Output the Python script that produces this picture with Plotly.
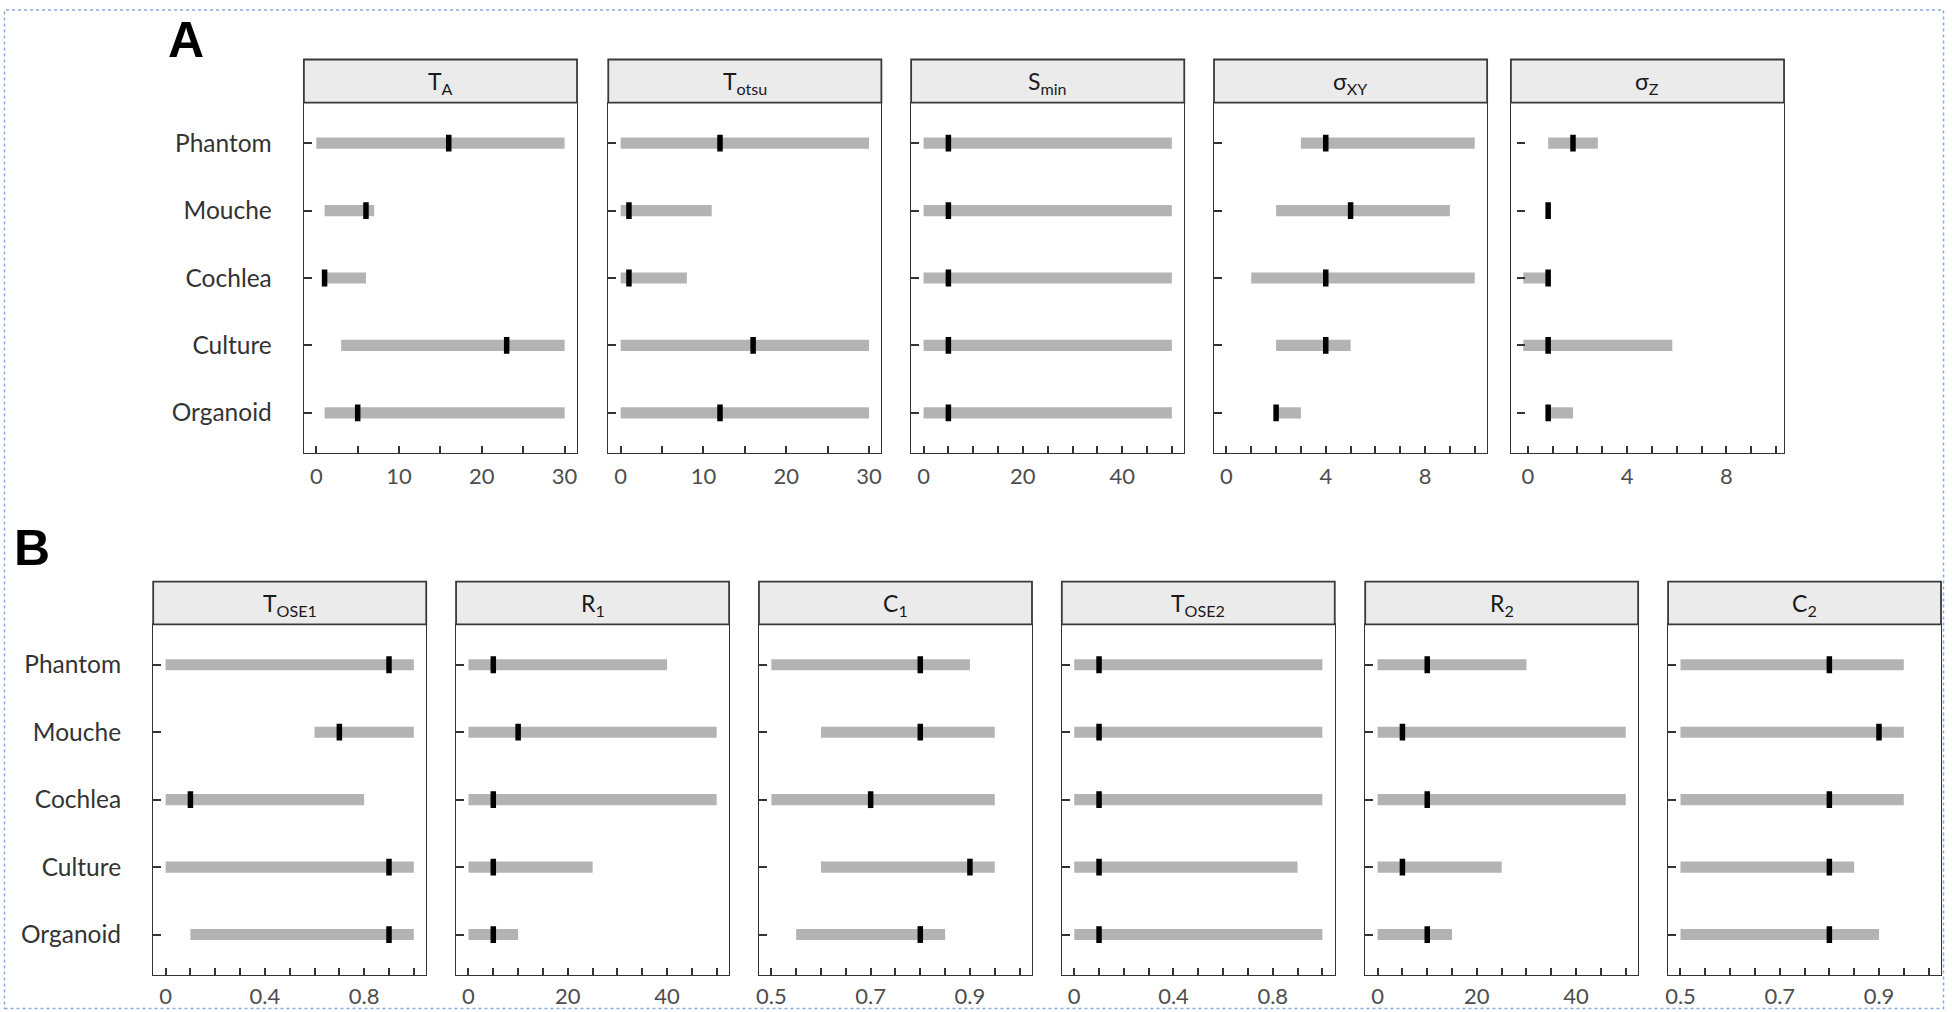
import plotly.graph_objects as go

W, H = 1952, 1012

categories = ["Phantom", "Mouche", "Cochlea", "Culture", "Organoid"]

# ---- Row A ----
TA_low = [0, 1, 1, 3, 1]
TA_high = [30, 7, 6, 30, 30]
TA_best = [16, 6, 1, 23, 5]

Totsu_low = [0, 0, 0, 0, 0]
Totsu_high = [30, 11, 8, 30, 30]
Totsu_best = [12, 1, 1, 16, 12]

Smin_low = [0, 0, 0, 0, 0]
Smin_high = [50, 50, 50, 50, 50]
Smin_best = [5, 5, 5, 5, 5]

sXY_low = [3, 2, 1, 2, 2]
sXY_high = [10, 9, 10, 5, 3]
sXY_best = [4, 5, 4, 4, 2]

sZ_low = [1, 1, 0, 0, 1]
sZ_high = [3, 1, 1, 6, 2]
sZ_best = [2, 1, 1, 1, 1]

# ---- Row B ----
TOSE1_low = [0, 0.6, 0, 0, 0.1]
TOSE1_high = [1, 1, 0.8, 1, 1]
TOSE1_best = [0.9, 0.7, 0.1, 0.9, 0.9]

R1_low = [0, 0, 0, 0, 0]
R1_high = [40, 50, 50, 25, 10]
R1_best = [5, 10, 5, 5, 5]

C1_low = [0.5, 0.6, 0.5, 0.6, 0.55]
C1_high = [0.9, 0.95, 0.95, 0.95, 0.85]
C1_best = [0.8, 0.8, 0.7, 0.9, 0.8]

TOSE2_low = [0, 0, 0, 0, 0]
TOSE2_high = [1, 1, 1, 0.9, 1]
TOSE2_best = [0.1, 0.1, 0.1, 0.1, 0.1]

R2_low = [0, 0, 0, 0, 0]
R2_high = [30, 50, 50, 25, 15]
R2_best = [10, 5, 10, 5, 10]

C2_low = [0.5, 0.5, 0.5, 0.5, 0.5]
C2_high = [0.95, 0.95, 0.95, 0.85, 0.9]
C2_best = [0.8, 0.9, 0.8, 0.8, 0.8]

# ---- tick definitions (labelled ticks, labels, all tick marks) ----
ticks_30 = [0, 10, 20, 30]
labels_30 = ["0", "10", "20", "30"]
minor_30 = [0, 5, 10, 15, 20, 25, 30]

ticks_50 = [0, 20, 40]
labels_50 = ["0", "20", "40"]
minor_50 = [0, 5, 10, 15, 20, 25, 30, 35, 40, 45, 50]

ticks_10 = [0, 4, 8]
labels_10 = ["0", "4", "8"]
minor_10 = [0, 1, 2, 3, 4, 5, 6, 7, 8, 9, 10]

ticks_1 = [0, 0.4, 0.8]
labels_1 = ["0", "0.4", "0.8"]
minor_1 = [0, 0.1, 0.2, 0.3, 0.4, 0.5, 0.6, 0.7, 0.8, 0.9, 1.0]

ticks_c = [0.5, 0.7, 0.9]
labels_c = ["0.5", "0.7", "0.9"]
minor_c = [0.5, 0.55, 0.6, 0.65, 0.7, 0.75, 0.8, 0.85, 0.9, 0.95, 1.0]

panels = [
    # title, low, high, best, range, tickvals, ticktext, minor, x0px, x1px, row
    ("T<sub>A</sub>", TA_low, TA_high, TA_best, [-1.5, 31.5], ticks_30, labels_30, minor_30, 301.5, 575.2, 0),
    ("T<sub>otsu</sub>", Totsu_low, Totsu_high, Totsu_best, [-1.5, 31.5], ticks_30, labels_30, minor_30, 606.5, 880.2, 0),
    ("S<sub>min</sub>", Smin_low, Smin_high, Smin_best, [-2.5, 52.5], ticks_50, labels_50, minor_50, 910, 1183.7, 0),
    ("σ<sub>XY</sub>", sXY_low, sXY_high, sXY_best, [-0.5, 10.5], ticks_10, labels_10, minor_10, 1213.5, 1487.2, 0),
    ("σ<sub>Z</sub>", sZ_low, sZ_high, sZ_best, [-0.5, 10.5], ticks_10, labels_10, minor_10, 1511, 1784.7, 0),
    ("T<sub>OSE1</sub>", TOSE1_low, TOSE1_high, TOSE1_best, [-0.05, 1.05], ticks_1, labels_1, minor_1, 150.5, 424.1, 1),
    ("R<sub>1</sub>", R1_low, R1_high, R1_best, [-2.5, 52.5], ticks_50, labels_50, minor_50, 454, 727.6, 1),
    ("C<sub>1</sub>", C1_low, C1_high, C1_best, [0.475, 1.025], ticks_c, labels_c, minor_c, 757.5, 1031.1, 1),
    ("T<sub>OSE2</sub>", TOSE2_low, TOSE2_high, TOSE2_best, [-0.05, 1.05], ticks_1, labels_1, minor_1, 1061, 1334.5, 1),
    ("R<sub>2</sub>", R2_low, R2_high, R2_best, [-2.5, 52.5], ticks_50, labels_50, minor_50, 1365, 1638.5, 1),
    ("C<sub>2</sub>", C2_low, C2_high, C2_best, [0.475, 1.025], ticks_c, labels_c, minor_c, 1668.5, 1942, 1),
]

# rows: strip top, strip bottom (= panel top), panel bottom  (px)
rows = [(59.5, 102.7, 453.3), (581.7, 624.3, 975.0)]
xlab_standoff = [3, 1]


def fx(px):
    return px / W


def fy(py):
    return 1 - py / H


fig = go.Figure()
layout = dict(
    width=W, height=H, margin=dict(l=0, r=0, t=0, b=0),
    paper_bgcolor="white", plot_bgcolor="white", showlegend=False,
    font=dict(family="Lato", color="#333333"),
)
shapes = []
annotations = []

AX = "#333333"
TICKFONT = dict(family="Lato", size=22, color="#4D4D4D")
CATFONT = dict(family="Lato", size=24.5, color="#333333")


def xtick_style(tv, tt, minor, show):
    d = dict(
        tickmode="array", tickvals=tv, ticktext=tt,
        ticks="inside" if show else "", ticklen=7, tickwidth=1.8, tickcolor=AX,
        showticklabels=show, tickfont=TICKFONT,
    )
    if show:
        d["minor"] = dict(tickmode="array", tickvals=minor, ticks="inside",
                          ticklen=7, tickwidth=1.8, tickcolor=AX, showgrid=False)
    return d


for i, (title, lo, hi, best, rng, tv, tt, minor, x0, x1, row) in enumerate(panels):
    n = i + 1
    xs = "x" if n == 1 else f"x{n}"
    ys = "y" if n == 1 else f"y{n}"
    st, sb, pb = rows[row]
    special = (title == "σ<sub>Z</sub>")
    first_in_row = (n == 1 or n == 6)

    fig.add_trace(go.Bar(
        y=categories, x=[h - l for l, h in zip(lo, hi)], base=lo,
        orientation="h", width=0.165,
        marker=dict(color="#B3B3B3", line=dict(width=0)),
        xaxis=xs, yaxis=ys, hoverinfo="skip",
    ))
    fig.add_trace(go.Scatter(
        x=best, y=categories, mode="markers",
        marker=dict(symbol="line-ns", size=12, color="black",
                    line=dict(width=5.5, color="black")),
        xaxis=xs, yaxis=ys, hoverinfo="skip",
    ))

    xa = dict(
        domain=[fx(x0), fx(x1)], anchor=ys, range=rng,
        ticklabelstandoff=xlab_standoff[row],
        showline=True, linecolor=AX, linewidth=1.4, mirror=True,
        showgrid=False, zeroline=False, fixedrange=True,
        **xtick_style(tv, tt, minor, not special),
    )
    ya = dict(
        domain=[fy(pb), fy(sb)], anchor=xs, type="category",
        categoryorder="array", categoryarray=categories, range=[4.6, -0.6],
        ticks="" if special else "inside", ticklen=8, tickwidth=2, tickcolor=AX,
        showticklabels=first_in_row, tickfont=CATFONT, ticklabelstandoff=26,
        showline=True, linecolor=AX, linewidth=1.4, mirror=True,
        showgrid=False, zeroline=False, fixedrange=True,
    )
    layout["xaxis" if n == 1 else f"xaxis{n}"] = xa
    layout["yaxis" if n == 1 else f"yaxis{n}"] = ya

    if special:
        # tick-only axes, drawn slightly offset as in the original figure
        fig.add_trace(go.Scatter(x=[None], y=[None], xaxis="x12", yaxis="y12",
                                 mode="markers", hoverinfo="skip"))
        layout["xaxis12"] = dict(
            overlaying=xs, anchor=ys, range=[rng[0] - 0.18, rng[1] - 0.18],
            ticklabelstandoff=xlab_standoff[row],
            showline=True, linecolor=AX, linewidth=1.4,
            showgrid=False, zeroline=False, fixedrange=True,
            **xtick_style(tv, tt, minor, True),
        )
        layout["yaxis12"] = dict(
            overlaying=ys, anchor="free", position=fx(x0 + 5), range=[4.6, -0.6],
            tickmode="array", tickvals=[0, 1, 2, 3, 4],
            ticks="inside", ticklen=8, tickwidth=2, tickcolor=AX,
            showticklabels=False, showline=False, showgrid=False, zeroline=False,
            fixedrange=True,
        )

    # strip
    shapes.append(dict(type="rect", xref="paper", yref="paper",
                       x0=fx(x0), x1=fx(x1), y0=fy(sb), y1=fy(st),
                       fillcolor="#EBEBEB", line=dict(color="#3A3A3A", width=1.8),
                       layer="above"))
    annotations.append(dict(text=title, xref="paper", yref="paper",
                            x=fx((x0 + x1) / 2), y=fy((st + sb) / 2 + 1),
                            xanchor="center", yanchor="middle", showarrow=False,
                            font=dict(family="Lato", size=23, color="#1A1A1A")))

# panel letters
annotations.append(dict(text="<b>A</b>", xref="paper", yref="paper",
                        x=fx(183), y=fy(40), xanchor="center", yanchor="middle",
                        showarrow=False,
                        font=dict(family="Liberation Sans", size=50, color="black")))
annotations.append(dict(text="<b>B</b>", xref="paper", yref="paper",
                        x=fx(29), y=fy(548), xanchor="center", yanchor="middle",
                        showarrow=False,
                        font=dict(family="Liberation Sans", size=50, color="black")))

# dotted outer frame
shapes.append(dict(type="rect", xref="paper", yref="paper",
                   x0=fx(1.5), x1=fx(1944.5), y0=fy(1008.5), y1=fy(10),
                   line=dict(color="#86A9DD", width=1.5, dash="dot"),
                   fillcolor="rgba(0,0,0,0)", layer="above"))

layout["shapes"] = shapes
layout["annotations"] = annotations
fig.update_layout(**layout)

fig.write_html(
    "out.html",
    config={"displayModeBar": False},
    post_script="document.body.style.margin='0';document.body.style.overflow='hidden';",
)
